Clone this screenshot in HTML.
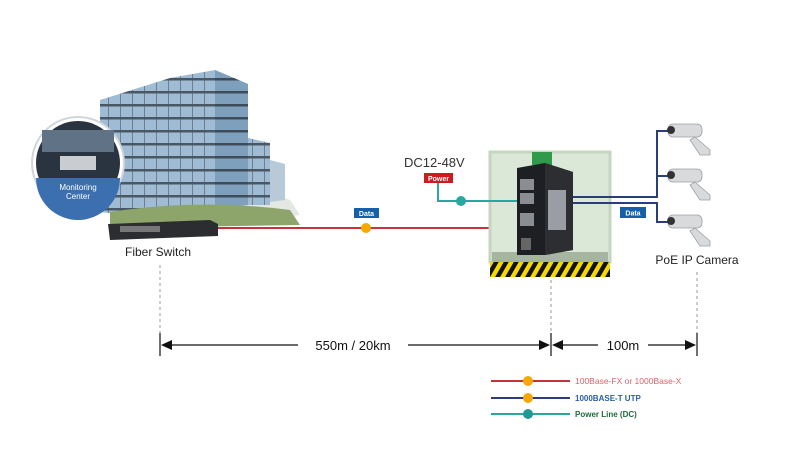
<!DOCTYPE html>
<html><head><meta charset="utf-8"><style>
body{margin:0;background:#fff;width:800px;height:453px;overflow:hidden;font-family:"Liberation Sans",sans-serif}
</style></head><body>
<svg width="800" height="453" viewBox="0 0 800 453" xmlns="http://www.w3.org/2000/svg" font-family="Liberation Sans, sans-serif">
<defs>
<pattern id="haz" width="10" height="16" patternUnits="userSpaceOnUse" patternTransform="skewX(-30)"><rect width="10" height="16" fill="#111"/><rect width="5" height="16" fill="#f5d800"/></pattern>
<pattern id="win" width="12" height="13" patternUnits="userSpaceOnUse"><rect width="12" height="13" fill="#9fbcd4"/><rect x="0" y="0" width="12" height="2.5" fill="#4a5866"/><rect x="0" y="2.5" width="1" height="10.5" fill="#6d7f90"/></pattern>
<pattern id="win2" width="12" height="13" patternUnits="userSpaceOnUse"><rect width="12" height="13" fill="#7fa0bc"/><rect x="0" y="0" width="12" height="2.5" fill="#3e4c5a"/></pattern>
</defs>
<!-- building -->
<path d="M230 225 L300 215 L290 200 L260 190 L230 200Z" fill="#e4e8e2"/>
<polygon points="100,100 170,78 215,70 248,84 248,205 150,218 100,212" fill="url(#win)"/>
<polygon points="215,70 248,84 248,205 215,208" fill="url(#win2)"/>
<polygon points="248,138 270,143 270,205 248,205" fill="url(#win)"/>
<polygon points="270,160 285,164 285,200 270,202" fill="#b8cad8"/>
<path d="M110 212 Q200 198 290 210 L300 225 L110 228Z" fill="#8da56a"/>
<!-- monitoring circle -->
<circle cx="78" cy="163" r="46" fill="#fff" stroke="#cfd6dc" stroke-width="2"/>
<circle cx="78" cy="163" r="42" fill="#2a3440"/>
<rect x="42" y="130" width="72" height="22" fill="#5f7286"/>
<rect x="60" y="156" width="36" height="14" fill="#c9ccd0"/>
<path d="M36 178 L120 178 A42 42 0 0 1 36 178Z" fill="#3c6fb0"/>
<text x="78" y="190" font-size="8" fill="#fff" text-anchor="middle">Monitoring</text>
<text x="78" y="199" font-size="8" fill="#fff" text-anchor="middle">Center</text>
<!-- fiber switch -->
<polygon points="108,224 210,220 218,224 218,236 110,240" fill="#2b2d30"/>
<rect x="120" y="226" width="40" height="6" fill="#777"/>
<text x="158" y="256" font-size="12" fill="#222" text-anchor="middle">Fiber Switch</text>
<!-- red line -->
<line x1="218" y1="228" x2="520" y2="228" stroke="#c8323c" stroke-width="2"/>
<circle cx="366" cy="228" r="5" fill="#f5a800"/>
<rect x="354" y="208" width="25" height="10" fill="#1560a8"/><text x="366.5" y="216" font-size="7" fill="#fff" text-anchor="middle" font-weight="bold">Data</text>
<!-- green box -->
<rect x="490" y="152" width="120" height="110" fill="#dbe8d8" stroke="#c4d6c0" stroke-width="3"/>
<rect x="492" y="252" width="116" height="10" fill="#a5b5a0"/>
<rect x="490" y="262" width="120" height="15" fill="url(#haz)"/>
<!-- power -->
<text x="404" y="167" font-size="13" fill="#333">DC12-48V</text>
<rect x="424" y="173" width="29" height="10" fill="#d01a22"/><text x="438.5" y="181" font-size="7" fill="#fff" text-anchor="middle" font-weight="bold">Power</text>
<polyline points="438,183 438,201 518,201" fill="none" stroke="#2aa8a0" stroke-width="2"/>
<circle cx="461" cy="201" r="5" fill="#2aa8a0"/>
<!-- blue lines -->
<polyline points="572,197 657,197 657,131 668,131" fill="none" stroke="#2a3e7a" stroke-width="2"/>
<polyline points="657,176 668,176" fill="none" stroke="#2a3e7a" stroke-width="2"/>
<polyline points="572,203 657,203 657,222 668,222" fill="none" stroke="#2a3e7a" stroke-width="2"/>
<rect x="620" y="207" width="26" height="11" fill="#1560a8"/><text x="633" y="215.5" font-size="7" fill="#fff" text-anchor="middle" font-weight="bold">Data</text>
<!-- device -->
<rect x="532" y="152" width="20" height="13" fill="#2e9a4a"/>
<polygon points="517,168 545,163 573,172 573,250 545,255 517,255" fill="#1e1f22"/>
<polygon points="545,163 573,172 573,250 545,255" fill="#2c2e32"/>
<rect x="548" y="190" width="18" height="40" fill="#9a9ea4"/>
<rect x="520" y="179" width="14" height="11" fill="#8a8e92"/>
<rect x="520" y="193" width="14" height="11" fill="#8a8e92"/>
<rect x="520" y="213" width="14" height="13" fill="#8a8e92"/>
<rect x="521" y="238" width="10" height="12" fill="#666"/>
<!-- cameras -->
<g fill="#d8dadc" stroke="#9aa0a4" stroke-width="0.8">
<rect x="668" y="124" width="34" height="13" rx="5"/><polygon points="695,137 710,150 710,155 700,155 690,140"/>
<rect x="668" y="169" width="34" height="13" rx="5"/><polygon points="695,182 710,195 710,200 700,200 690,185"/>
<rect x="668" y="215" width="34" height="13" rx="5"/><polygon points="695,228 710,241 710,246 700,246 690,231"/>
</g>
<circle cx="671" cy="130" r="4" fill="#333"/><circle cx="671" cy="175" r="4" fill="#333"/><circle cx="671" cy="221" r="4" fill="#333"/>
<text x="697" y="264" font-size="12" fill="#222" text-anchor="middle">PoE IP Camera</text>
<!-- dashed -->
<g stroke="#999" stroke-dasharray="3,3" stroke-width="1">
<line x1="160" y1="265" x2="160" y2="340"/><line x1="551" y1="280" x2="551" y2="340"/><line x1="697" y1="272" x2="697" y2="340"/>
</g>
<g stroke="#111" stroke-width="1.2"><line x1="160" y1="333" x2="160" y2="356"/><line x1="551" y1="333" x2="551" y2="356"/><line x1="697" y1="333" x2="697" y2="356"/>
<line x1="168" y1="345" x2="298" y2="345"/><line x1="408" y1="345" x2="543" y2="345"/><line x1="559" y1="345" x2="598" y2="345"/><line x1="648" y1="345" x2="689" y2="345"/></g>
<g fill="#111"><polygon points="161,345 172,340 172,350"/><polygon points="550,345 539,340 539,350"/><polygon points="552,345 563,340 563,350"/><polygon points="696,345 685,340 685,350"/></g>
<text x="353" y="350" font-size="13" fill="#111" text-anchor="middle">550m / 20km</text>
<text x="623" y="350" font-size="13" fill="#111" text-anchor="middle">100m</text>
<!-- legend -->
<line x1="491" y1="381" x2="570" y2="381" stroke="#c8323c" stroke-width="2"/><circle cx="528" cy="381" r="5" fill="#f5a800"/>
<line x1="491" y1="398" x2="570" y2="398" stroke="#2a3e7a" stroke-width="2"/><circle cx="528" cy="398" r="5" fill="#f5a800"/>
<line x1="491" y1="414" x2="570" y2="414" stroke="#2aa8a0" stroke-width="2"/><circle cx="528" cy="414" r="5" fill="#1e9a90"/>
<text x="575" y="384" font-size="8.5" fill="#e0606a">100Base-FX or 1000Base-X</text>
<text x="575" y="401" font-size="8" fill="#2a5ea8" font-weight="bold">1000BASE-T UTP</text>
<text x="575" y="417" font-size="8" fill="#1f6a3a" font-weight="bold">Power Line (DC)</text>
</svg>
</body></html>
